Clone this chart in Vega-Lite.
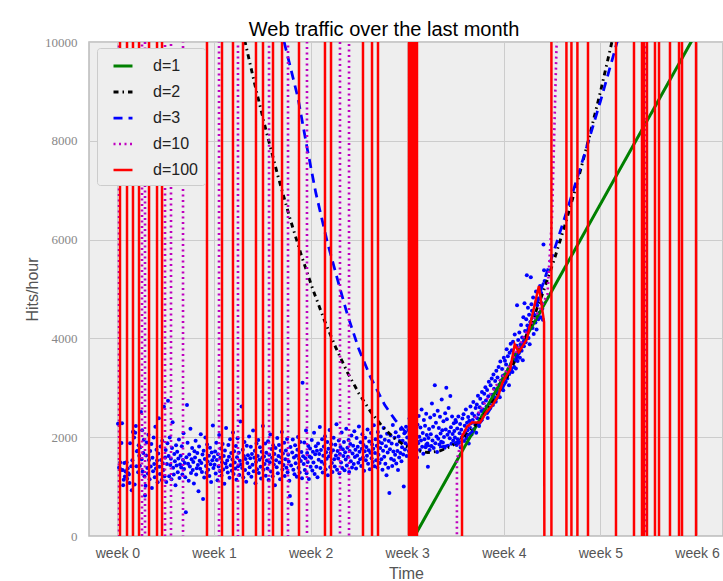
{
"$schema":"https://vega.github.io/schema/vega-lite/v6.json",
"width":634,"height":494,
"autosize":{"type":"none"},
"padding":{"left":89,"top":42,"right":0,"bottom":45},
"background":"white",
"title":{"text":"Web traffic over the last month","fontSize":20,"font":"Liberation Sans","fontWeight":"normal","color":"#000000","frame":"group","offset":-4,"dx":-22,"anchor":"middle"},
"config":{"view":{"fill":"#EEEEEE","stroke":"#BBBBBB","strokeWidth":1.5},"axis":{"gridColor":"#CCCCCC","gridWidth":1,"domain":false,"ticks":false,"labelFlush":false,"labelOverlap":false}},
"datasets":{
"pts":[
{"h":1,"v":2272},{"h":3,"v":1386},{"h":4,"v":1365},{"h":5,"v":1488},{"h":6,"v":1337},{"h":7,"v":1883},{"h":8,"v":2283},{"h":9,"v":1335},{"h":10,"v":1025},{"h":11,"v":1139},{"h":12,"v":1477},{"h":13,"v":1203},{"h":14,"v":1311},{"h":15,"v":1299},{"h":16,"v":1494},{"h":17,"v":1159},{"h":18,"v":1365},{"h":19,"v":1272},{"h":20,"v":1246},{"h":21,"v":1071},{"h":22,"v":1876},{"h":24,"v":1410},{"h":25,"v":925},{"h":26,"v":1533},{"h":27,"v":2104},{"h":28,"v":2113},{"h":29,"v":1993},{"h":30,"v":1045},{"h":31,"v":2090},{"h":32,"v":2227},{"h":33,"v":1413},{"h":34,"v":1718},{"h":35,"v":1721},{"h":36,"v":1291},{"h":37,"v":1838},{"h":38,"v":1623},
{"h":39,"v":1424},{"h":40,"v":1798},{"h":41,"v":2510},{"h":42,"v":1552},{"h":43,"v":2140},{"h":44,"v":1306},{"h":45,"v":1678},{"h":46,"v":1950},{"h":47,"v":1210},{"h":48,"v":820},{"h":49,"v":1015},{"h":50,"v":1632},
{"h":51,"v":1894},{"h":52,"v":1377},{"h":53,"v":1266},{"h":54,"v":2048},{"h":55,"v":1539},{"h":56,"v":1148},{"h":57,"v":1721},{"h":58,"v":1405},{"h":59,"v":1863},{"h":60,"v":972},{"h":61,"v":1584},{"h":62,"v":1312},
{"h":63,"v":1996},{"h":64,"v":1457},{"h":65,"v":1190},{"h":66,"v":2210},{"h":67,"v":1368},{"h":68,"v":1745},{"h":69,"v":1527},{"h":70,"v":1089},{"h":71,"v":1670},{"h":72,"v":2385},{"h":73,"v":1402},{"h":74,"v":1256},
{"h":75,"v":1813},{"h":76,"v":1540},{"h":77,"v":1135},{"h":78,"v":1928},{"h":79,"v":1471},{"h":80,"v":1334},{"h":81,"v":2615},{"h":82,"v":1208},{"h":83,"v":1587},{"h":84,"v":1742},{"h":85,"v":1093},{"h":86,"v":1460},
{"h":87,"v":1876},{"h":88,"v":2740},{"h":89,"v":1617},{"h":90,"v":1211},{"h":91,"v":1994},{"h":92,"v":1438},{"h":93,"v":1562},{"h":94,"v":1147},{"h":95,"v":1780},{"h":96,"v":2305},{"h":97,"v":1382},{"h":98,"v":1246},
{"h":99,"v":1659},{"h":100,"v":1513},{"h":101,"v":1028},{"h":102,"v":1835},{"h":103,"v":1427},{"h":104,"v":1704},{"h":105,"v":1290},{"h":106,"v":1568},{"h":107,"v":1951},{"h":108,"v":1176},{"h":109,"v":1449},{"h":110,"v":1622},
{"h":111,"v":1387},{"h":112,"v":1815},{"h":113,"v":1243},{"h":114,"v":1536},{"h":115,"v":2079},{"h":116,"v":1358},{"h":117,"v":1480},{"h":118,"v":1187},{"h":119,"v":480},{"h":120,"v":1596},{"h":121,"v":2650},{"h":122,"v":1890},
{"h":123,"v":1465},{"h":124,"v":1119},{"h":125,"v":1648},{"h":126,"v":1409},{"h":127,"v":2170},{"h":128,"v":1274},{"h":129,"v":1552},{"h":130,"v":1781},{"h":131,"v":1336},{"h":132,"v":1497},{"h":133,"v":1063},{"h":134,"v":1714},
{"h":135,"v":1588},{"h":136,"v":1928},{"h":137,"v":1245},{"h":138,"v":1371},{"h":139,"v":1682},{"h":140,"v":1439},{"h":141,"v":905},{"h":142,"v":1810},{"h":143,"v":1523},{"h":144,"v":1360},{"h":145,"v":2062},{"h":146,"v":1476},
{"h":147,"v":1298},{"h":148,"v":1650},{"h":149,"v":750},{"h":150,"v":1727},{"h":151,"v":1184},{"h":152,"v":1561},{"h":153,"v":1994},{"h":154,"v":1418},{"h":155,"v":1279},{"h":156,"v":1853},{"h":157,"v":1506},{"h":158,"v":1342},
{"h":159,"v":1625},{"h":160,"v":1214},{"h":161,"v":1788},{"h":162,"v":1451},{"h":163,"v":1093},{"h":164,"v":1689},{"h":165,"v":1532},{"h":166,"v":2235},{"h":167,"v":1377},{"h":168,"v":1598},
{"h":169,"v":1440},{"h":170,"v":1712},{"h":171,"v":1265},{"h":172,"v":1890},{"h":173,"v":1538},{"h":174,"v":1127},{"h":175,"v":1654},{"h":176,"v":1409},{"h":177,"v":2046},{"h":178,"v":1318},{"h":179,"v":1583},{"h":180,"v":1772},
{"h":181,"v":1226},{"h":182,"v":1495},{"h":183,"v":1860},{"h":184,"v":1347},{"h":185,"v":1619},{"h":186,"v":1058},{"h":187,"v":1731},{"h":188,"v":1466},{"h":189,"v":2188},{"h":190,"v":1390},{"h":191,"v":1527},{"h":192,"v":1284},
{"h":193,"v":1843},{"h":194,"v":1602},{"h":195,"v":1179},{"h":196,"v":1958},{"h":197,"v":1433},{"h":198,"v":1678},{"h":199,"v":1321},{"h":200,"v":1547},{"h":201,"v":2097},{"h":202,"v":1256},{"h":203,"v":1716},{"h":204,"v":1489},
{"h":205,"v":1365},{"h":206,"v":1822},{"h":207,"v":1140},{"h":208,"v":1593},{"h":209,"v":1980},{"h":210,"v":1412},{"h":211,"v":1687},{"h":212,"v":1233},{"h":213,"v":1525},{"h":214,"v":2318},{"h":215,"v":1449},{"h":216,"v":2620},
{"h":217,"v":1375},{"h":218,"v":1746},{"h":219,"v":1182},{"h":220,"v":1618},{"h":221,"v":1904},{"h":222,"v":1336},{"h":223,"v":1561},{"h":224,"v":1097},{"h":225,"v":1825},{"h":226,"v":1478},{"h":227,"v":1634},{"h":228,"v":1263},
{"h":229,"v":2012},{"h":230,"v":1390},{"h":231,"v":1573},{"h":232,"v":1807},{"h":233,"v":1198},{"h":234,"v":1659},{"h":235,"v":1441},{"h":236,"v":2135},{"h":237,"v":1312},{"h":238,"v":1586},{"h":239,"v":1724},{"h":240,"v":1069},
{"h":241,"v":1498},{"h":242,"v":1873},{"h":243,"v":1352},{"h":244,"v":1620},{"h":245,"v":1943},{"h":246,"v":1277},{"h":247,"v":1546},{"h":248,"v":1798},{"h":249,"v":1403},{"h":250,"v":1164},{"h":251,"v":1705},{"h":252,"v":1587},
{"h":253,"v":2226},{"h":254,"v":1339},{"h":255,"v":1611},{"h":256,"v":1458},{"h":257,"v":1874},{"h":258,"v":1222},{"h":259,"v":1684},{"h":260,"v":1529},{"h":261,"v":1366},{"h":262,"v":1917},{"h":263,"v":1136},{"h":264,"v":1645},
{"h":265,"v":1492},{"h":266,"v":2056},{"h":267,"v":1307},{"h":268,"v":1763},{"h":269,"v":1584},{"h":270,"v":1211},{"h":271,"v":1838},{"h":272,"v":1447},{"h":273,"v":1660},{"h":274,"v":1025},{"h":275,"v":1779},{"h":276,"v":1533},
{"h":277,"v":1392},{"h":278,"v":1986},{"h":279,"v":1268},{"h":280,"v":1617},{"h":281,"v":1842},{"h":282,"v":1488},{"h":283,"v":1150},{"h":284,"v":1725},{"h":285,"v":1591},{"h":286,"v":2103},{"h":287,"v":1346},{"h":288,"v":1668},
{"h":289,"v":1435},{"h":290,"v":1889},{"h":291,"v":1214},{"h":292,"v":1556},{"h":293,"v":1730},{"h":294,"v":1381},{"h":295,"v":1962},{"h":296,"v":1293},{"h":297,"v":1647},{"h":298,"v":1509},{"h":299,"v":1118},{"h":300,"v":810},
{"h":301,"v":1802},{"h":302,"v":1427},{"h":303,"v":650},{"h":304,"v":1688},{"h":305,"v":1954},{"h":306,"v":1342},{"h":307,"v":1590},{"h":308,"v":1251},{"h":309,"v":1836},{"h":310,"v":1473},{"h":311,"v":1625},{"h":312,"v":1198},
{"h":313,"v":1747},{"h":314,"v":2005},{"h":315,"v":1384},{"h":316,"v":1563},{"h":317,"v":1286},{"h":318,"v":1901},{"h":319,"v":1519},{"h":320,"v":1702},{"h":321,"v":1167},{"h":322,"v":3100},{"h":323,"v":1612},{"h":324,"v":1458},
{"h":325,"v":1893},{"h":326,"v":1335},{"h":327,"v":1574},{"h":328,"v":2137},{"h":329,"v":1269},{"h":330,"v":1681},{"h":331,"v":1498},{"h":332,"v":1823},{"h":333,"v":1152},{"h":334,"v":1609},{"h":335,"v":1770},{"h":336,"v":1403},
{"h":337,"v":1586},{"h":338,"v":1942},{"h":339,"v":1327},{"h":340,"v":1704},{"h":341,"v":1489},{"h":342,"v":2089},{"h":343,"v":1256},{"h":344,"v":1653},{"h":345,"v":1817},{"h":346,"v":1402},{"h":347,"v":1728},{"h":348,"v":1190},
{"h":349,"v":1875},{"h":350,"v":1544},{"h":351,"v":1661},{"h":352,"v":2206},{"h":353,"v":1378},{"h":354,"v":1739},{"h":355,"v":1503},{"h":356,"v":1958},{"h":357,"v":1284},{"h":358,"v":1627},{"h":359,"v":1812},{"h":360,"v":1456},
{"h":361,"v":2018},{"h":362,"v":1345},{"h":363,"v":1693},{"h":364,"v":1566},{"h":365,"v":1904},{"h":366,"v":1231},{"h":367,"v":1768},{"h":368,"v":1612},{"h":369,"v":2147},{"h":370,"v":1397},{"h":371,"v":1684},{"h":372,"v":1859},
{"h":373,"v":1478},{"h":374,"v":1295},{"h":375,"v":1736},{"h":376,"v":1988},{"h":377,"v":1553},{"h":378,"v":1407},{"h":379,"v":1845},{"h":380,"v":1628},{"h":381,"v":2261},{"h":382,"v":1342},{"h":383,"v":1719},{"h":384,"v":1570},
{"h":385,"v":1935},{"h":386,"v":1268},{"h":387,"v":1662},{"h":388,"v":1801},{"h":389,"v":1488},{"h":390,"v":2094},{"h":391,"v":1376},{"h":392,"v":1757},{"h":393,"v":1619},{"h":394,"v":1902},{"h":395,"v":1330},{"h":396,"v":1696},
{"h":397,"v":1547},{"h":398,"v":2172},{"h":399,"v":1428},{"h":400,"v":1785},{"h":401,"v":1606},{"h":402,"v":1941},{"h":403,"v":1294},{"h":404,"v":1720},{"h":405,"v":1863},{"h":406,"v":1512},{"h":407,"v":2035},{"h":408,"v":1389},
{"h":409,"v":1671},{"h":410,"v":1826},{"h":411,"v":1458},{"h":412,"v":2118},{"h":413,"v":1597},{"h":414,"v":1745},{"h":415,"v":1366},{"h":416,"v":1984},{"h":417,"v":1632},{"h":418,"v":1808},{"h":419,"v":1481},{"h":420,"v":2219},
{"h":421,"v":1704},{"h":422,"v":1553},{"h":423,"v":1897},{"h":424,"v":1419},{"h":425,"v":1765},{"h":426,"v":2061},{"h":427,"v":1588},{"h":428,"v":1843},{"h":429,"v":1320},{"h":430,"v":1716},{"h":431,"v":1989},{"h":432,"v":1534},
{"h":433,"v":1802},{"h":434,"v":1627},{"h":435,"v":2154},{"h":436,"v":1461},{"h":437,"v":1738},{"h":438,"v":1915},{"h":439,"v":1350},{"h":440,"v":1684},{"h":441,"v":2087},{"h":442,"v":1573},{"h":443,"v":1851},{"h":444,"v":1496},
{"h":445,"v":1764},{"h":446,"v":2243},{"h":447,"v":1410},{"h":448,"v":1679},{"h":449,"v":1958},{"h":450,"v":1532},{"h":451,"v":1827},{"h":452,"v":1388},{"h":453,"v":2106},{"h":454,"v":1645},{"h":455,"v":1901},{"h":456,"v":1476},
{"h":457,"v":1783},{"h":458,"v":2012},{"h":459,"v":1554},{"h":460,"v":1876},{"h":461,"v":1339},{"h":462,"v":1728},{"h":463,"v":2185},{"h":464,"v":1603},{"h":465,"v":1950},{"h":466,"v":1462},{"h":467,"v":1817},{"h":468,"v":1228},
{"h":469,"v":2070},{"h":470,"v":1691},{"h":471,"v":1384},{"h":472,"v":1923},{"h":473,"v":870},{"h":474,"v":1755},{"h":475,"v":2038},{"h":476,"v":1566},{"h":477,"v":1874},{"h":478,"v":1419},{"h":479,"v":2246},{"h":480,"v":1708},
{"h":481,"v":1532},{"h":482,"v":1989},{"h":483,"v":1647},{"h":484,"v":2101},{"h":485,"v":1470},{"h":486,"v":1852},{"h":487,"v":1720},{"h":488,"v":1336},{"h":489,"v":2015},{"h":490,"v":1589},{"h":491,"v":1923},{"h":492,"v":1680},
{"h":493,"v":2164},{"h":494,"v":1511},{"h":495,"v":1795},{"h":496,"v":1927},{"h":497,"v":1648},{"h":498,"v":1000},{"h":499,"v":2082},{"h":500,"v":1753},{"h":501,"v":1879},{"h":502,"v":2210},{"h":503,"v":1617},{"h":504,"v":1996},
{"h":505,"v":1834},{"h":506,"v":2147},{"h":507,"v":1722},{"h":508,"v":2381},{"h":509,"v":1956},{"h":510,"v":1640},{"h":511,"v":2205},{"h":512,"v":1890},{"h":513,"v":2493},{"h":514,"v":1768},{"h":515,"v":2061},{"h":516,"v":1905},
{"h":517,"v":2316},{"h":518,"v":1715},{"h":519,"v":2132},{"h":520,"v":1989},{"h":521,"v":1587},{"h":522,"v":2254},{"h":523,"v":1876},{"h":524,"v":2427},{"h":525,"v":2010},{"h":526,"v":1743},{"h":527,"v":2198},{"h":528,"v":1932},
{"h":529,"v":2560},{"h":530,"v":1809},{"h":531,"v":2086},{"h":532,"v":1665},{"h":533,"v":2349},{"h":534,"v":1957},{"h":535,"v":2231},{"h":536,"v":1798},{"h":537,"v":2475},{"h":538,"v":2044},{"h":539,"v":1870},{"h":540,"v":1400},
{"h":541,"v":1986},{"h":542,"v":2167},{"h":543,"v":1743},{"h":544,"v":2398},{"h":545,"v":2059},{"h":546,"v":1821},{"h":547,"v":2680},{"h":548,"v":1934},{"h":549,"v":2213},{"h":550,"v":1780},{"h":551,"v":2451},{"h":552,"v":3050},
{"h":553,"v":1879},{"h":554,"v":2290},{"h":555,"v":2015},{"h":556,"v":1702},{"h":557,"v":2534},{"h":558,"v":1968},{"h":559,"v":2186},{"h":560,"v":1853},{"h":561,"v":2412},{"h":562,"v":2077},{"h":563,"v":1910},{"h":564,"v":2765},
{"h":565,"v":2140},{"h":566,"v":1895},{"h":567,"v":2323},{"h":568,"v":2002},{"h":569,"v":1787},{"h":570,"v":2486},{"h":571,"v":2158},{"h":572,"v":3000},{"h":573,"v":2361},{"h":574,"v":2049},{"h":575,"v":1826},{"h":576,"v":2590},
{"h":577,"v":2112},{"h":578,"v":1978},{"h":579,"v":2835},{"h":580,"v":2203},{"h":581,"v":1869},{"h":582,"v":2417},{"h":583,"v":2066},{"h":584,"v":1931},{"h":585,"v":2280},{"h":586,"v":2124},{"h":587,"v":1995},{"h":588,"v":2350},
{"h":589,"v":2310},{"h":590,"v":1840},{"h":591,"v":2175},{"h":592,"v":1960},{"h":593,"v":2420},{"h":594,"v":1885},{"h":595,"v":2080},{"h":596,"v":2265},{"h":597,"v":1790},{"h":598,"v":2150},{"h":599,"v":1995},{"h":600,"v":2380},
{"h":601,"v":2040},{"h":602,"v":2465},{"h":603,"v":1925},{"h":604,"v":2230},{"h":605,"v":2105},{"h":606,"v":2560},{"h":607,"v":1980},{"h":608,"v":2290},{"h":609,"v":2140},{"h":610,"v":2410},{"h":611,"v":1870},{"h":612,"v":2335},
{"h":613,"v":2195},{"h":614,"v":2620},{"h":615,"v":2280},{"h":616,"v":2055},{"h":617,"v":2480},{"h":618,"v":2350},{"h":619,"v":2715},{"h":620,"v":2160},{"h":621,"v":2430},{"h":622,"v":2270},{"h":623,"v":2590},{"h":624,"v":2090},
{"h":625,"v":2660},{"h":626,"v":2385},{"h":627,"v":2840},{"h":628,"v":2470},{"h":629,"v":2225},{"h":630,"v":2605},{"h":631,"v":2780},{"h":632,"v":2350},{"h":633,"v":2530},{"h":634,"v":2915},{"h":635,"v":2410},{"h":636,"v":2690},
{"h":637,"v":2560},{"h":638,"v":2880},{"h":639,"v":2470},{"h":640,"v":3010},{"h":641,"v":2745},{"h":642,"v":2620},{"h":643,"v":2955},{"h":644,"v":2390},{"h":645,"v":2830},{"h":646,"v":3120},{"h":647,"v":2680},{"h":648,"v":2590},
{"h":649,"v":3050},{"h":650,"v":2740},{"h":651,"v":3190},{"h":652,"v":2860},{"h":653,"v":2650},{"h":654,"v":3270},{"h":655,"v":2980},{"h":656,"v":2810},{"h":657,"v":3140},{"h":658,"v":2720},{"h":659,"v":3345},{"h":660,"v":2930},
{"h":661,"v":3210},{"h":662,"v":2890},{"h":663,"v":3420},{"h":664,"v":3060},{"h":665,"v":2810},{"h":666,"v":3530},{"h":667,"v":3150},{"h":668,"v":2970},{"h":669,"v":3380},{"h":670,"v":3240},{"h":671,"v":2950},{"h":672,"v":3610},
{"h":673,"v":3260},{"h":674,"v":3550},{"h":675,"v":3120},{"h":676,"v":3470},{"h":677,"v":3780},{"h":678,"v":3190},{"h":679,"v":3640},{"h":680,"v":3380},{"h":681,"v":3050},{"h":682,"v":3710},{"h":683,"v":3420},{"h":684,"v":3890},
{"h":685,"v":3490},{"h":686,"v":3760},{"h":687,"v":3320},{"h":688,"v":3930},{"h":689,"v":3610},{"h":690,"v":3420},{"h":691,"v":4080},{"h":692,"v":3680},{"h":693,"v":3390},{"h":694,"v":3850},{"h":695,"v":4670},{"h":696,"v":3540},
{"h":697,"v":3970},{"h":698,"v":3700},{"h":699,"v":4120},{"h":700,"v":3610},{"h":701,"v":3880},{"h":702,"v":4270},{"h":703,"v":3750},{"h":704,"v":4020},{"h":705,"v":3560},{"h":706,"v":4430},{"h":707,"v":3840},{"h":708,"v":4710},
{"h":709,"v":4150},{"h":710,"v":3920},{"h":711,"v":4390},{"h":712,"v":5280},{"h":713,"v":4260},{"h":714,"v":4620},{"h":715,"v":4010},{"h":716,"v":4480},{"h":717,"v":3880},{"h":718,"v":4330},{"h":719,"v":5240},{"h":720,"v":4690},
{"h":721,"v":4560},{"h":722,"v":4210},{"h":723,"v":4830},{"h":724,"v":4090},{"h":725,"v":4470},{"h":726,"v":4470},{"h":727,"v":4320},{"h":728,"v":4950},{"h":729,"v":4180},{"h":730,"v":4670},{"h":731,"v":4760},{"h":732,"v":4390},
{"h":733,"v":4810},{"h":734,"v":4520},{"h":735,"v":5060},{"h":736,"v":4430},{"h":737,"v":4920},{"h":738,"v":4710},{"h":739,"v":4600},{"h":740,"v":4380},{"h":741,"v":5900},{"h":742,"v":5380},{"h":743,"v":5160}
],
"cur":[
{"s":"d=1","i":0,"h":505,"y":-250},{"s":"d=1","i":1,"h":1010,"y":10254},
{"s":"d=2","i":0,"h":200,"y":11185},{"s":"d=2","i":1,"h":220,"y":10104},{"s":"d=2","i":2,"h":240,"y":9088},{"s":"d=2","i":3,"h":260,"y":8138},{"s":"d=2","i":4,"h":280,"y":7253},{"s":"d=2","i":5,"h":300,"y":6433},{"s":"d=2","i":6,"h":320,"y":5678},{"s":"d=2","i":7,"h":340,"y":4989},{"s":"d=2","i":8,"h":360,"y":4365},{"s":"d=2","i":9,"h":380,"y":3807},{"s":"d=2","i":10,"h":400,"y":3313},{"s":"d=2","i":11,"h":420,"y":2886},{"s":"d=2","i":12,"h":440,"y":2523},{"s":"d=2","i":13,"h":460,"y":2226},{"s":"d=2","i":14,"h":480,"y":1994},{"s":"d=2","i":15,"h":500,"y":1827},{"s":"d=2","i":16,"h":520,"y":1726},{"s":"d=2","i":17,"h":540,"y":1690},{"s":"d=2","i":18,"h":560,"y":1719},{"s":"d=2","i":19,"h":580,"y":1814},{"s":"d=2","i":20,"h":600,"y":1974},{"s":"d=2","i":21,"h":620,"y":2200},{"s":"d=2","i":22,"h":640,"y":2490},{"s":"d=2","i":23,"h":660,"y":2846},{"s":"d=2","i":24,"h":680,"y":3268},{"s":"d=2","i":25,"h":700,"y":3754},{"s":"d=2","i":26,"h":720,"y":4306},{"s":"d=2","i":27,"h":740,"y":4924},{"s":"d=2","i":28,"h":760,"y":5607},{"s":"d=2","i":29,"h":780,"y":6355},{"s":"d=2","i":30,"h":800,"y":7168},{"s":"d=2","i":31,"h":820,"y":8047},{"s":"d=2","i":32,"h":840,"y":8990},{"s":"d=2","i":33,"h":860,"y":10000},{"s":"d=2","i":34,"h":880,"y":11075},
{"s":"d=3","i":0,"h":280,"y":10600},{"s":"d=3","i":1,"h":290,"y":10000},{"s":"d=3","i":2,"h":314,"y":8870},{"s":"d=3","i":3,"h":330,"y":7850},{"s":"d=3","i":4,"h":345,"y":6950},{"s":"d=3","i":5,"h":365,"y":5950},{"s":"d=3","i":6,"h":385,"y":5100},{"s":"d=3","i":7,"h":400,"y":4480},{"s":"d=3","i":8,"h":420,"y":3780},{"s":"d=3","i":9,"h":440,"y":3220},{"s":"d=3","i":10,"h":465,"y":2650},{"s":"d=3","i":11,"h":483,"y":2350},{"s":"d=3","i":12,"h":500,"y":2120},{"s":"d=3","i":13,"h":520,"y":1930},{"s":"d=3","i":14,"h":540,"y":1830},{"s":"d=3","i":15,"h":560,"y":1800},{"s":"d=3","i":16,"h":580,"y":1840},{"s":"d=3","i":17,"h":600,"y":1950},{"s":"d=3","i":18,"h":620,"y":2140},{"s":"d=3","i":19,"h":640,"y":2420},{"s":"d=3","i":20,"h":660,"y":2780},{"s":"d=3","i":21,"h":680,"y":3220},{"s":"d=3","i":22,"h":700,"y":3750},{"s":"d=3","i":23,"h":720,"y":4380},{"s":"d=3","i":24,"h":740,"y":5100},{"s":"d=3","i":25,"h":760,"y":5800},{"s":"d=3","i":26,"h":780,"y":6520},{"s":"d=3","i":27,"h":800,"y":7260},{"s":"d=3","i":28,"h":820,"y":8020},{"s":"d=3","i":29,"h":840,"y":8800},{"s":"d=3","i":30,"h":860,"y":9620},{"s":"d=3","i":31,"h":870,"y":10040},{"s":"d=3","i":32,"h":885,"y":10700},
{"s":"d=10","i":0,"h":-60,"y":20000},
{"s":"d=10","i":1,"h":2.8,"y":20000},{"s":"d=10","i":2,"h":2.8,"y":-10000},
{"s":"d=10","i":3,"h":42.8,"y":-10000},{"s":"d=10","i":4,"h":42.8,"y":20000},
{"s":"d=10","i":5,"h":48,"y":20000},{"s":"d=10","i":6,"h":48,"y":-10000},
{"s":"d=10","i":7,"h":82.8,"y":-10000},{"s":"d=10","i":8,"h":82.8,"y":20000},
{"s":"d=10","i":9,"h":93.2,"y":20000},{"s":"d=10","i":10,"h":93.2,"y":-10000},
{"s":"d=10","i":11,"h":114.1,"y":-10000},{"s":"d=10","i":12,"h":114.1,"y":20000},
{"s":"d=10","i":13,"h":176.7,"y":20000},{"s":"d=10","i":14,"h":176.7,"y":-10000},
{"s":"d=10","i":15,"h":209.7,"y":-10000},{"s":"d=10","i":16,"h":209.7,"y":20000},
{"s":"d=10","i":17,"h":263.7,"y":20000},{"s":"d=10","i":18,"h":263.7,"y":-10000},
{"s":"d=10","i":19,"h":296.7,"y":-10000},{"s":"d=10","i":20,"h":296.7,"y":20000},
{"s":"d=10","i":21,"h":329.7,"y":20000},{"s":"d=10","i":22,"h":329.7,"y":-10000},
{"s":"d=10","i":23,"h":387.1,"y":-10000},{"s":"d=10","i":24,"h":387.1,"y":20000},
{"s":"d=10","i":25,"h":402.8,"y":20000},{"s":"d=10","i":26,"h":402.8,"y":-10000},
{"s":"d=10","i":27,"h":590,"y":-10000},{"s":"d=10","i":28,"h":590.5,"y":1540},{"s":"d=10","i":29,"h":600,"y":2050},{"s":"d=10","i":30,"h":620,"y":2350},{"s":"d=10","i":31,"h":650,"y":2900},{"s":"d=10","i":32,"h":680,"y":3400},{"s":"d=10","i":33,"h":710,"y":4100},{"s":"d=10","i":34,"h":740,"y":4700},{"s":"d=10","i":35,"h":748,"y":4900},{"s":"d=10","i":36,"h":756,"y":6500},{"s":"d=10","i":37,"h":765,"y":10500},{"s":"d=10","i":38,"h":780,"y":20000},
{"s":"d=10","i":39,"h":919,"y":20000},{"s":"d=10","i":40,"h":919,"y":-10000},{"s":"d=10","i":41,"h":1060,"y":-10000},
{"s":"d=100","i":0,"h":-60,"y":-10000},
{"s":"d=100","i":1,"h":4.5,"y":-10000},{"s":"d=100","i":2,"h":4.5,"y":20000},
{"s":"d=100","i":3,"h":16.7,"y":20000},{"s":"d=100","i":4,"h":16.7,"y":-10000},
{"s":"d=100","i":5,"h":27.1,"y":-10000},{"s":"d=100","i":6,"h":27.1,"y":20000},
{"s":"d=100","i":7,"h":37.6,"y":20000},{"s":"d=100","i":8,"h":37.6,"y":-10000},
{"s":"d=100","i":9,"h":55,"y":-10000},{"s":"d=100","i":10,"h":55,"y":20000},
{"s":"d=100","i":11,"h":68.9,"y":20000},{"s":"d=100","i":12,"h":68.9,"y":-10000},
{"s":"d=100","i":13,"h":77.6,"y":-10000},{"s":"d=100","i":14,"h":77.6,"y":20000},
{"s":"d=100","i":15,"h":155.8,"y":20000},{"s":"d=100","i":16,"h":155.8,"y":-10000},
{"s":"d=100","i":17,"h":181.9,"y":-10000},{"s":"d=100","i":18,"h":181.9,"y":20000},
{"s":"d=100","i":19,"h":201,"y":20000},{"s":"d=100","i":20,"h":201,"y":-10000},
{"s":"d=100","i":21,"h":218.4,"y":-10000},{"s":"d=100","i":22,"h":218.4,"y":20000},
{"s":"d=100","i":23,"h":241,"y":20000},{"s":"d=100","i":24,"h":241,"y":-10000},
{"s":"d=100","i":25,"h":253.2,"y":-10000},{"s":"d=100","i":26,"h":253.2,"y":20000},
{"s":"d=100","i":27,"h":270.6,"y":20000},{"s":"d=100","i":28,"h":270.6,"y":-10000},
{"s":"d=100","i":29,"h":286.3,"y":-10000},{"s":"d=100","i":30,"h":286.3,"y":20000},
{"s":"d=100","i":31,"h":315.8,"y":20000},{"s":"d=100","i":32,"h":315.8,"y":-10000},
{"s":"d=100","i":33,"h":361,"y":-10000},{"s":"d=100","i":34,"h":361,"y":20000},
{"s":"d=100","i":35,"h":371.5,"y":20000},{"s":"d=100","i":36,"h":371.5,"y":-10000},
{"s":"d=100","i":37,"h":427.1,"y":-10000},{"s":"d=100","i":38,"h":427.1,"y":20000},
{"s":"d=100","i":39,"h":442.8,"y":20000},{"s":"d=100","i":40,"h":442.8,"y":-10000},
{"s":"d=100","i":41,"h":453.2,"y":-10000},{"s":"d=100","i":42,"h":453.2,"y":20000},
{"s":"d=100","i":43,"h":507.1,"y":20000},{"s":"d=100","i":44,"h":507.1,"y":-10000},
{"s":"d=100","i":45,"h":510.6,"y":-10000},{"s":"d=100","i":46,"h":510.6,"y":20000},
{"s":"d=100","i":47,"h":514.1,"y":20000},{"s":"d=100","i":48,"h":514.1,"y":-10000},
{"s":"d=100","i":49,"h":517.6,"y":-10000},{"s":"d=100","i":50,"h":517.6,"y":20000},
{"s":"d=100","i":51,"h":521,"y":20000},{"s":"d=100","i":52,"h":521,"y":-10000},
{"s":"d=100","i":53,"h":599.3,"y":-10000},{"s":"d=100","i":54,"h":599.3,"y":2010},{"s":"d=100","i":55,"h":608,"y":2215},{"s":"d=100","i":56,"h":617,"y":2300},{"s":"d=100","i":57,"h":631,"y":2300},{"s":"d=100","i":58,"h":641,"y":2500},{"s":"d=100","i":59,"h":653,"y":2660},{"s":"d=100","i":60,"h":662,"y":2830},{"s":"d=100","i":61,"h":670,"y":3110},{"s":"d=100","i":62,"h":683,"y":3370},{"s":"d=100","i":63,"h":691,"y":3880},{"s":"d=100","i":64,"h":698,"y":3720},{"s":"d=100","i":65,"h":712,"y":3980},{"s":"d=100","i":66,"h":733,"y":5060},{"s":"d=100","i":67,"h":742,"y":4330},{"s":"d=100","i":68,"h":743.7,"y":-10000},
{"s":"d=100","i":69,"h":754.8,"y":-10000},{"s":"d=100","i":70,"h":754.8,"y":20000},
{"s":"d=100","i":71,"h":780.9,"y":20000},{"s":"d=100","i":72,"h":780.9,"y":-10000},
{"s":"d=100","i":73,"h":789.6,"y":-10000},{"s":"d=100","i":74,"h":789.6,"y":20000},
{"s":"d=100","i":75,"h":800,"y":20000},{"s":"d=100","i":76,"h":800,"y":-10000},
{"s":"d=100","i":77,"h":818.4,"y":-10000},{"s":"d=100","i":78,"h":818.4,"y":20000},
{"s":"d=100","i":79,"h":867.1,"y":20000},{"s":"d=100","i":80,"h":867.1,"y":-10000},
{"s":"d=100","i":81,"h":898.4,"y":-10000},{"s":"d=100","i":82,"h":898.4,"y":20000},
{"s":"d=100","i":83,"h":912.3,"y":20000},{"s":"d=100","i":84,"h":912.3,"y":-10000},
{"s":"d=100","i":85,"h":915.8,"y":-10000},{"s":"d=100","i":86,"h":915.8,"y":20000},
{"s":"d=100","i":87,"h":921,"y":20000},{"s":"d=100","i":88,"h":921,"y":-10000},
{"s":"d=100","i":89,"h":934.9,"y":-10000},{"s":"d=100","i":90,"h":934.9,"y":20000},
{"s":"d=100","i":91,"h":941.9,"y":20000},{"s":"d=100","i":92,"h":941.9,"y":-10000},
{"s":"d=100","i":93,"h":961,"y":-10000},{"s":"d=100","i":94,"h":961,"y":20000},
{"s":"d=100","i":95,"h":976.7,"y":20000},{"s":"d=100","i":96,"h":976.7,"y":-10000},
{"s":"d=100","i":97,"h":981.9,"y":-10000},{"s":"d=100","i":98,"h":981.9,"y":20000},
{"s":"d=100","i":99,"h":1006.3,"y":20000},{"s":"d=100","i":100,"h":1006.3,"y":-10000},
{"s":"d=100","i":101,"h":1060,"y":-10000}
]
},
"layer":[
{"data":{"name":"pts"},
"mark":{"type":"circle","size":16,"color":"#0000FF","opacity":1,"clip":true},
"encoding":{
"x":{"field":"h","type":"quantitative","scale":{"domain":[-49.4,1053.2],"nice":false,"zero":false},
"axis":{"values":[0,168,336,504,672,840,1008],"labelExpr":"'week ' + round(datum.value/168)","title":"Time","titleFont":"Liberation Sans","titleFontSize":16,"titleFontWeight":"normal","titleColor":"#555555","titlePadding":5,"labelFont":"Liberation Sans","labelFontSize":14,"labelColor":"#555555","labelPadding":10,"grid":true}},
"y":{"field":"v","type":"quantitative","scale":{"domain":[0,10000],"nice":false,"zero":false},
"axis":{"values":[0,2000,4000,6000,8000,10000],"format":"d","title":"Hits/hour","titleFont":"Liberation Sans","titleFontSize":16,"titleFontWeight":"normal","titleColor":"#555555","titlePadding":4,"labelFont":"Liberation Serif","labelFontSize":13,"labelColor":"#888888","labelPadding":12,"grid":true}}
}},
{"data":{"name":"cur"},
"mark":{"type":"line","clip":true},
"encoding":{
"x":{"field":"h","type":"quantitative"},
"y":{"field":"y","type":"quantitative"},
"order":{"field":"i","type":"quantitative"},
"strokeWidth":{"field":"s","type":"ordinal","scale":{"domain":["d=1","d=2","d=3","d=10","d=100"],"range":[3,2.5,3,2.5,3]},"legend":null},
"color":{"field":"s","type":"nominal","scale":{"domain":["d=1","d=2","d=3","d=10","d=100"],"range":["#008000","#000000","#0000FF","#BF00BF","#FF0000"]},
"legend":{"title":null,"orient":"none","legendX":8,"legendY":6,"fillColor":"#EEEEEE","strokeColor":"#CCCCCC","padding":7,"cornerRadius":3,"symbolType":"stroke","symbolSize":360,"symbolStrokeWidth":3,"symbolOffset":8,"labelFont":"Liberation Sans","labelFontSize":16,"labelColor":"#222222","labelOffset":19,"rowPadding":7}},
"strokeDash":{"field":"s","type":"nominal","scale":{"domain":["d=1","d=2","d=3","d=10","d=100"],"range":[[1,0],[5,4,1.5,4],[9,6],[2,3.5],[1,0]]},
"legend":{"title":null,"orient":"none","legendX":8,"legendY":6,"fillColor":"#EEEEEE","strokeColor":"#CCCCCC","padding":7,"cornerRadius":3,"symbolType":"stroke","symbolSize":360,"symbolStrokeWidth":3,"symbolOffset":8,"labelFont":"Liberation Sans","labelFontSize":16,"labelColor":"#222222","labelOffset":19,"rowPadding":7}}
}}
]
}
